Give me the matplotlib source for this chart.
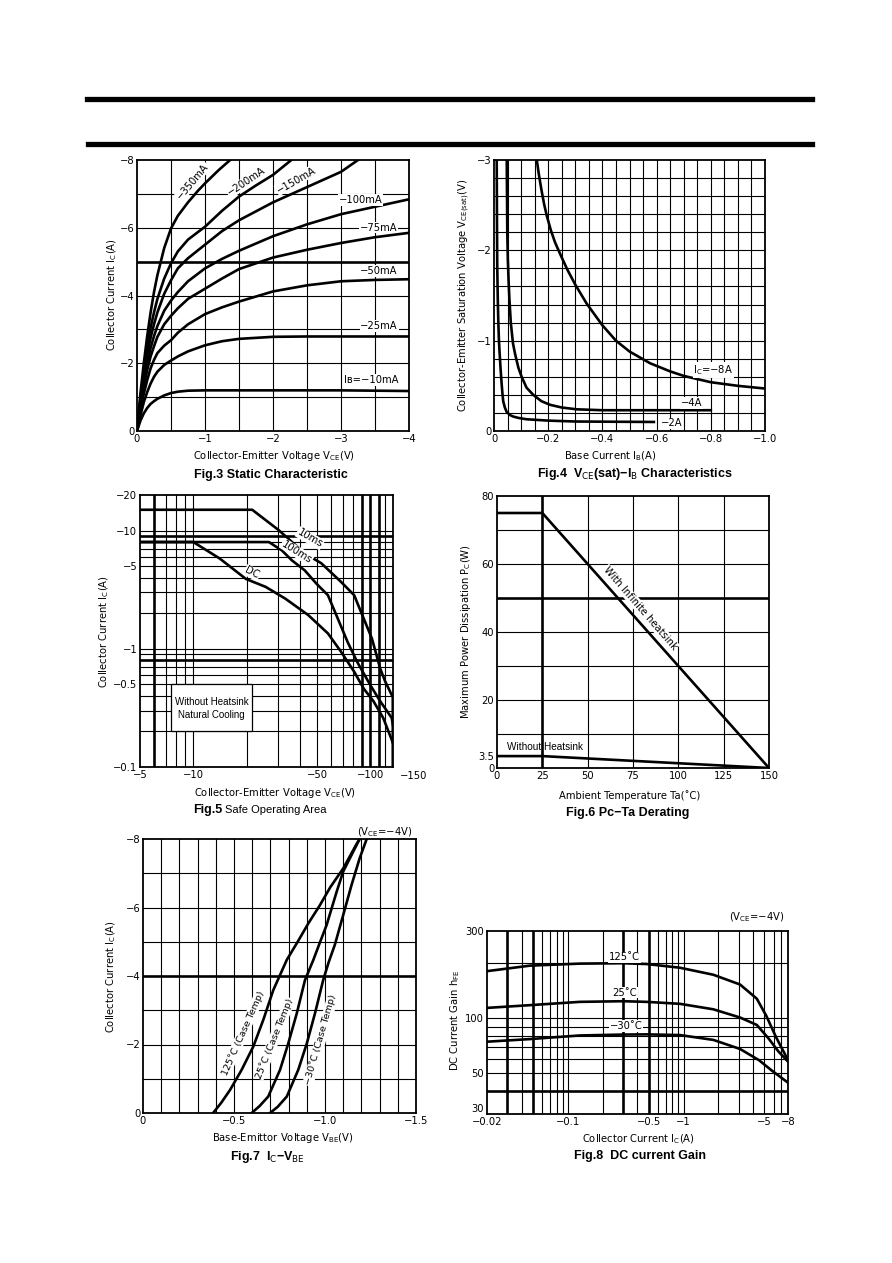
import numpy as np
import matplotlib
matplotlib.use('Agg')
import matplotlib.pyplot as plt
from matplotlib.lines import Line2D
from matplotlib.patches import Rectangle
from matplotlib.ticker import NullLocator

plt.rcParams['font.family'] = ['DejaVu Sans']
plt.rcParams['mathtext.fontset'] = 'dejavusans'
plt.rcParams['axes.unicode_minus'] = True

# ---------------- Fig.3 Static characteristic (VCE [V], IC [A]) ----------------
f3_vce = [0, -0.05, -0.1, -0.15, -0.2, -0.25, -0.3, -0.4, -0.5, -0.6, -0.75, -1, -1.25, -1.5, -2, -2.5, -3, -3.5, -4]
f3_ic_10mA = [0, -0.3, -0.52, -0.68, -0.8, -0.88, -0.95, -1.05, -1.12, -1.16, -1.19, -1.2, -1.2, -1.2, -1.2, -1.2, -1.2, -1.19, -1.18]
f3_ic_25mA = [0, -0.45, -0.85, -1.15, -1.4, -1.6, -1.75, -1.95, -2.08, -2.2, -2.35, -2.53, -2.65, -2.72, -2.78, -2.79, -2.79, -2.79, -2.79]
f3_ic_50mA = [0, -0.6, -1.1, -1.5, -1.85, -2.1, -2.3, -2.52, -2.68, -2.9, -3.15, -3.45, -3.65, -3.82, -4.12, -4.3, -4.42, -4.46, -4.48]
f3_ic_75mA = [0, -0.7, -1.3, -1.8, -2.2, -2.5, -2.78, -3.15, -3.4, -3.62, -3.9, -4.2, -4.5, -4.78, -5.12, -5.35, -5.55, -5.72, -5.85]
f3_ic_100mA = [0, -0.8, -1.45, -2.0, -2.45, -2.8, -3.1, -3.55, -3.85, -4.1, -4.42, -4.8, -5.08, -5.32, -5.75, -6.1, -6.4, -6.62, -6.84]
f3_vce_150 = [0, -0.05, -0.1, -0.15, -0.2, -0.25, -0.3, -0.4, -0.5, -0.6, -0.75, -1, -1.25, -1.5, -2, -2.5, -3, -3.25]
f3_ic_150mA = [0, -0.85, -1.6, -2.25, -2.75, -3.15, -3.5, -4.05, -4.45, -4.8, -5.1, -5.5, -5.9, -6.22, -6.75, -7.2, -7.65, -8.0]
f3_vce_200 = [0, -0.05, -0.1, -0.15, -0.2, -0.25, -0.3, -0.4, -0.5, -0.6, -0.75, -1, -1.25, -1.5, -1.75, -2, -2.27]
f3_ic_200mA = [0, -0.95, -1.8, -2.5, -3.05, -3.5, -3.9, -4.5, -4.95, -5.3, -5.65, -6.03, -6.5, -6.92, -7.25, -7.56, -8.0]
f3_vce_350 = [0, -0.05, -0.1, -0.15, -0.2, -0.25, -0.3, -0.4, -0.5, -0.6, -0.75, -0.9, -1, -1.2, -1.37]
f3_ic_350mA = [0, -1.1, -2.0, -2.8, -3.5, -4.1, -4.6, -5.4, -5.98, -6.35, -6.75, -7.1, -7.31, -7.7, -8.0]
f3_labels = ['Iʙ=−10mA', '−25mA', '−50mA', '−75mA', '−100mA', '−150mA', '−200mA', '−350mA']

# ---------------- Fig.4 VCE(sat) - IB ----------------
f4_ib_8A = [-0.158, -0.165, -0.175, -0.185, -0.195, -0.21, -0.225, -0.244, -0.27, -0.3, -0.342, -0.4, -0.45, -0.5, -0.576, -0.65, -0.7, -0.8, -0.9, -1.0]
f4_v_8A = [-3.0, -2.85, -2.67, -2.51, -2.38, -2.22, -2.09, -1.96, -1.79, -1.62, -1.41, -1.17, -1.0, -0.88, -0.75, -0.66, -0.61, -0.54, -0.5, -0.47]
f4_ib_4A = [-0.047, -0.048, -0.049, -0.051, -0.054, -0.057, -0.062, -0.07, -0.078, -0.09, -0.102, -0.12, -0.145, -0.175, -0.207, -0.25, -0.305, -0.4, -0.8]
f4_v_4A = [-3.0, -2.6, -2.2, -1.9, -1.65, -1.45, -1.2, -0.97, -0.85, -0.7, -0.6, -0.48, -0.4, -0.33, -0.29, -0.26, -0.24, -0.23, -0.23]
f4_ib_2A = [-0.01, -0.011, -0.012, -0.014, -0.016, -0.018, -0.02, -0.024, -0.028, -0.031, -0.034, -0.04, -0.047, -0.06, -0.071, -0.09, -0.12, -0.2, -0.3, -0.59]
f4_v_2A = [-3.0, -2.3, -1.82, -1.45, -1.2, -1.02, -0.9, -0.7, -0.53, -0.42, -0.33, -0.26, -0.21, -0.175, -0.16, -0.145, -0.13, -0.115, -0.105, -0.1]

# ---------------- Fig.5 Safe operating area (magnitudes of -VCE [V], -IC [A]) ----------------
f5_v_10ms = [5, 21.5, 30.3, 42.6, 52.7, 68.1, 80.9, 91.6, 101.9, 113.5, 121, 133.6, 133.6]
f5_i_10ms = [15, 15, 10.1, 6.4, 5.3, 3.69, 2.84, 1.80, 1.22, 0.68, 0.53, 0.39, 0.1]
f5_v_100ms = [5, 26.7, 31.6, 36, 42.6, 49.5, 57.5, 65.4, 74.3, 84.3, 100, 113.5, 131.8, 133.6]
f5_i_100ms = [8, 8, 6.8, 5.6, 4.6, 3.56, 2.84, 1.8, 1.14, 0.77, 0.49, 0.36, 0.26, 0.23]
f5_v_dc = [5, 10, 14.1, 19.8, 25.6, 33, 44.5, 57.5, 68, 80.9, 91.6, 104, 118, 131.8, 133.6]
f5_i_dc = [8, 8, 5.8, 3.9, 3.34, 2.66, 1.93, 1.35, 0.95, 0.64, 0.46, 0.36, 0.26, 0.17, 0.16]

# ---------------- Fig.6 Pc - Ta derating ----------------
f6_ta_inf = [0, 25, 150]
f6_pc_inf = [75, 75, 0]
f6_ta_no = [0, 25, 50, 75, 100, 125, 150]
f6_pc_no = [3.5, 3.5, 2.8, 2.1, 1.4, 0.7, 0]

# ---------------- Fig.7 IC - VBE ----------------
f7_vbe_125 = [-0.385, -0.43, -0.478, -0.542, -0.606, -0.661, -0.716, -0.753, -0.79, -0.85, -0.91, -0.97, -1.03, -1.10, -1.17, -1.19]
f7_ic_125 = [0, -0.3, -0.67, -1.26, -1.94, -2.72, -3.59, -4.03, -4.47, -5.0, -5.55, -6.05, -6.6, -7.14, -7.82, -8.0]
f7_vbe_25 = [-0.597, -0.64, -0.688, -0.753, -0.798, -0.845, -0.89, -0.936, -0.97, -1.009, -1.064, -1.10, -1.155, -1.19]
f7_ic_25 = [0, -0.2, -0.48, -1.26, -2.03, -2.91, -3.88, -4.47, -4.95, -5.49, -6.46, -7.05, -7.63, -8.0]
f7_vbe_m30 = [-0.698, -0.74, -0.79, -0.853, -0.9, -0.945, -0.99, -1.02, -1.054, -1.10, -1.146, -1.19, -1.229]
f7_ic_m30 = [0, -0.18, -0.48, -1.26, -2.03, -2.91, -3.88, -4.4, -4.91, -5.78, -6.66, -7.43, -8.0]

# ---------------- Fig.8 DC current gain (magnitude of -IC [A], hFE) ----------------
f8_ic_125 = [0.02, 0.047, 0.127, 0.3, 0.48, 0.93, 1.81, 3.08, 4.3, 5.2, 6.3, 7.8, 8.0]
f8_h_125 = [181, 194, 199, 200, 198, 189, 173, 153, 128, 103, 79, 61, 59]
f8_ic_25 = [0.02, 0.047, 0.127, 0.3, 0.48, 0.93, 1.81, 3.08, 4.3, 5.4, 6.6, 8.0]
f8_h_25 = [114, 118, 123, 124, 123, 120, 112, 101, 92, 78, 66, 58]
f8_ic_m30 = [0.02, 0.047, 0.127, 0.3, 0.48, 0.93, 1.81, 3.08, 4.5, 5.8, 8.0]
f8_h_m30 = [74.5, 77, 80.6, 81.5, 81.7, 81, 76.2, 68, 59, 51.8, 44.5]

# =====================================================================
W, H = 892, 1263
fig = plt.figure(figsize=(W / 100, H / 100), dpi=100)
fig.patch.set_facecolor('white')

TFS = 7.2
CAP = dict(family='Liberation Sans', fontweight='bold', fontsize=9, ha='center', va='center')
NARROW = 'Liberation Sans'
GRID = dict(color='black', lw=0.8, zorder=1)
THICK = dict(color='black', lw=1.9, zorder=1)
CURVE = dict(color='black', lw=1.9, zorder=2, solid_joinstyle='round')
BOX = dict(facecolor='white', edgecolor='none', pad=0.5)


def add_ax(l, r, t, b):
    ax = fig.add_axes([l / W, 1 - b / H, (r - l) / W, (b - t) / H])
    for s in ax.spines.values():
        s.set_linewidth(1.3)
        s.set_color('black')
        s.set_zorder(4)
    ax.tick_params(which='both', length=0, labelsize=TFS, pad=2)
    return ax


def ftext(x, y, s, **kw):
    return fig.text(x / W, 1 - y / H, s, **kw)


def vgrid(ax, xs, **kw):
    for x in xs:
        ax.axvline(x, **kw)


def hgrid(ax, ys, **kw):
    for y in ys:
        ax.axhline(y, **kw)


def lbl(ax, x, y, s, rot=0, fs=TFS, **kw):
    ax.text(x, y, s, rotation=rot, ha='center', va='center', fontsize=fs,
            bbox=BOX, zorder=3, rotation_mode='anchor', **kw)


# header rules
fig.add_artist(Line2D([87 / W, 812 / W], [1 - 98.5 / H] * 2, lw=3.8, color='black'))
fig.add_artist(Line2D([88 / W, 812 / W], [1 - 143.5 / H] * 2, lw=3.8, color='black'))

# ---------------- Fig.3 ----------------
ax3 = add_ax(137, 409, 160, 431)
ax3.set_xlim(0, -4)
ax3.set_ylim(0, -8)
vgrid(ax3, np.arange(-0.5, -3.9, -0.5), **GRID)
hgrid(ax3, [-1, -2, -3, -4, -6, -7], **GRID)
hgrid(ax3, [-5], **THICK)
ax3.plot(f3_vce, f3_ic_10mA, **CURVE)
ax3.plot(f3_vce, f3_ic_25mA, **CURVE)
ax3.plot(f3_vce, f3_ic_50mA, **CURVE)
ax3.plot(f3_vce, f3_ic_75mA, **CURVE)
ax3.plot(f3_vce, f3_ic_100mA, **CURVE)
ax3.plot(f3_vce_150, f3_ic_150mA, **CURVE)
ax3.plot(f3_vce_200, f3_ic_200mA, **CURVE)
ax3.plot(f3_vce_350, f3_ic_350mA, **CURVE)
ax3.set_xticks([0, -1, -2, -3, -4], ['0', '−1', '−2', '−3', '−4'])
ax3.set_yticks([0, -2, -4, -6, -8], ['0', '−2', '−4', '−6', '−8'])
lbl(ax3, -3.44, -1.5, f3_labels[0])
lbl(ax3, -3.56, -3.1, f3_labels[1])
lbl(ax3, -3.55, -4.72, f3_labels[2])
lbl(ax3, -3.55, -6.0, f3_labels[3])
lbl(ax3, -3.29, -6.82, f3_labels[4])
lbl(ax3, -2.34, -7.41, f3_labels[5], rot=30)
lbl(ax3, -1.61, -7.36, f3_labels[6], rot=34)
lbl(ax3, -0.82, -7.37, f3_labels[7], rot=50)
ftext(274, 456, r'Collector-Emitter Voltage V$_{\rm CE}$(V)', ha='center', va='center', fontsize=TFS)
ftext(112, 295, r'Collector Current I$_{\rm C}$(A)', ha='center', va='center', fontsize=TFS, rotation=90)
ftext(271, 475, 'Fig.3 Static Characteristic', **CAP)

# ---------------- Fig.4 ----------------
ax4 = add_ax(494, 765, 160, 431)
ax4.set_xlim(0, -1.0)
ax4.set_ylim(0, -3)
vgrid(ax4, np.arange(-0.05, -0.99, -0.05), **GRID)
hgrid(ax4, np.arange(-0.2, -2.99, -0.2), **GRID)
ax4.plot(f4_ib_8A, f4_v_8A, **CURVE)
ax4.plot(f4_ib_4A, f4_v_4A, **CURVE)
ax4.plot(f4_ib_2A, f4_v_2A, **CURVE)
ax4.set_xticks([0, -0.2, -0.4, -0.6, -0.8, -1.0], ['0', '−0.2', '−0.4', '−0.6', '−0.8', '−1.0'])
ax4.set_yticks([0, -1, -2, -3], ['0', '−1', '−2', '−3'])
lbl(ax4, -0.81, -0.675, r'I$_{\rm C}$=−8A')
lbl(ax4, -0.73, -0.31, '−4A')
lbl(ax4, -0.655, -0.085, '−2A')
ftext(610, 456, r'Base Current I$_{\rm B}$(A)', ha='center', va='center', fontsize=TFS)
ftext(464, 295, r'Collector-Emitter Saturation Voltage V$_{\rm CE(sat)}$(V)', ha='center', va='center',
      fontsize=TFS, rotation=90)
ftext(635, 474, r'Fig.4  V$_{\rm CE}$(sat)−I$_{\rm B}$ Characteristics', **CAP)

# ---------------- Fig.5 ----------------
ax5 = add_ax(140, 393, 495, 767)
ax5.set_xscale('log')
ax5.set_yscale('log')
ax5.set_xlim(5, 134)
ax5.set_ylim(0.1, 20)
vgrid(ax5, [7, 8, 9, 10, 20, 30, 40, 50, 60, 70, 80, 120], **GRID)
vgrid(ax5, [6, 90, 100, 112], **THICK)
hgrid(ax5, [0.2, 0.3, 0.4, 0.5, 0.6, 0.7, 0.9, 1, 2, 3, 4, 5, 6, 7, 8, 10], **GRID)
hgrid(ax5, [0.8, 9], **THICK)
ax5.plot(f5_v_10ms, f5_i_10ms, **CURVE)
ax5.plot(f5_v_100ms, f5_i_100ms, **CURVE)
ax5.plot(f5_v_dc, f5_i_dc, **CURVE)
ax5.xaxis.set_minor_locator(NullLocator())
ax5.yaxis.set_minor_locator(NullLocator())
ax5.set_xticks([5, 10, 50, 100], ['−5', '−10', '−50', '−100'])
ax5.set_yticks([0.1, 0.5, 1, 5, 10, 20], ['−0.1', '−0.5', '−1', '−5', '−10', '−20'])
ax5.text(1.08, -0.013, '−150', transform=ax5.transAxes, ha='center', va='top', fontsize=TFS)
lbl(ax5, 45.5, 8.6, '10ms', rot=-30)
lbl(ax5, 38.4, 6.6, '100ms', rot=-32)
lbl(ax5, 21.5, 4.4, 'DC', rot=-27)
ax5.add_patch(Rectangle((7.5, 0.2), 14.0, 0.3, facecolor='white', edgecolor='black', lw=0.9, zorder=3))
ax5.text(12.7, 0.356, 'Without Heatsink', ha='center', va='center', fontsize=7, family=NARROW, zorder=4)
ax5.text(12.7, 0.276, 'Natural Cooling', ha='center', va='center', fontsize=7, family=NARROW, zorder=4)
ftext(275, 793, r'Collector-Emitter Voltage V$_{\rm CE}$(V)', ha='center', va='center', fontsize=TFS)
ftext(104, 632, r'Collector Current I$_{\rm C}$(A)', ha='center', va='center', fontsize=TFS, rotation=90)
ftext(222, 810, 'Fig.5', ha='right', va='center', fontsize=9, fontweight='bold', family=NARROW)
ftext(225, 810, 'Safe Operating Area', ha='left', va='center', fontsize=8, family=NARROW)

# ---------------- Fig.6 ----------------
ax6 = add_ax(497, 769, 496, 768)
ax6.set_xlim(0, 150)
ax6.set_ylim(0, 80)
vgrid(ax6, [50, 75, 100, 125], **GRID)
vgrid(ax6, [25], **THICK)
hgrid(ax6, [10, 20, 30, 40, 60, 70], **GRID)
hgrid(ax6, [50], **THICK)
ax6.plot(f6_ta_inf, f6_pc_inf, **CURVE)
ax6.plot(f6_ta_no, f6_pc_no, **CURVE)
ax6.set_xticks([0, 25, 50, 75, 100, 125, 150], ['0', '25', '50', '75', '100', '125', '150'])
ax6.set_yticks([0, 3.5, 20, 40, 60, 80], ['0', '3.5', '20', '40', '60', '80'])
lbl(ax6, 79, 47, 'With Infinite heatsink', rot=-49)
ax6.text(5.5, 6.2, 'Without Heatsink', ha='left', va='center', fontsize=7.2, family=NARROW, zorder=3)
ftext(630, 796, 'Ambient Temperature Ta(˚C)', ha='center', va='center', fontsize=TFS)
ftext(466, 632, r'Maximum Power Dissipation P$_{\rm C}$(W)', ha='center', va='center', fontsize=TFS, rotation=90)
ftext(628, 813, 'Fig.6 Pc−Ta Derating', **CAP)

# ---------------- Fig.7 ----------------
ax7 = add_ax(143, 416, 839, 1113)
ax7.set_xlim(0, -1.5)
ax7.set_ylim(0, -8)
vgrid(ax7, np.arange(-0.1, -1.49, -0.1), **GRID)
hgrid(ax7, [-1, -2, -3, -5, -6, -7], **GRID)
hgrid(ax7, [-4], **THICK)
ax7.plot(f7_vbe_125, f7_ic_125, **CURVE)
ax7.plot(f7_vbe_25, f7_ic_25, **CURVE)
ax7.plot(f7_vbe_m30, f7_ic_m30, **CURVE)
ax7.set_xticks([0, -0.5, -1.0, -1.5], ['0', '−0.5', '−1.0', '−1.5'])
ax7.set_yticks([0, -2, -4, -6, -8], ['0', '−2', '−4', '−6', '−8'])
lbl(ax7, -0.548, -2.33, '125˚C (Case Temp)', rot=66, fs=6.8)
lbl(ax7, -0.722, -2.18, '25˚C (Case Temp)', rot=68, fs=6.8)
lbl(ax7, -0.975, -2.13, '−30˚C (Case Temp)', rot=74, fs=6.8)
ftext(385, 832, r'(V$_{\rm CE}$=−4V)', ha='center', va='center', fontsize=TFS)
ftext(283, 1138, r'Base-Emittor Voltage V$_{\rm BE}$(V)', ha='center', va='center', fontsize=TFS)
ftext(111, 977, r'Collector Current I$_{\rm C}$(A)', ha='center', va='center', fontsize=TFS, rotation=90)
ftext(267, 1157, r'Fig.7  I$_{\rm C}$−V$_{\rm BE}$', **CAP)

# ---------------- Fig.8 ----------------
ax8 = add_ax(487, 788, 931, 1114)
ax8.set_xscale('log')
ax8.set_yscale('log')
ax8.set_xlim(0.02, 8)
ax8.set_ylim(30, 300)
vgrid(ax8, [0.04, 0.06, 0.07, 0.08, 0.09, 0.1, 0.2, 0.4, 0.6, 0.7, 0.8, 0.9, 1, 2, 3, 4, 5, 6, 7], **GRID)
vgrid(ax8, [0.03, 0.05, 0.3, 0.5], **THICK)
hgrid(ax8, [50, 60, 70, 80, 90, 100, 200], **GRID)
hgrid(ax8, [40], **THICK)
ax8.plot(f8_ic_125, f8_h_125, **CURVE)
ax8.plot(f8_ic_25, f8_h_25, **CURVE)
ax8.plot(f8_ic_m30, f8_h_m30, **CURVE)
ax8.xaxis.set_minor_locator(NullLocator())
ax8.yaxis.set_minor_locator(NullLocator())
ax8.set_xticks([0.02, 0.1, 0.5, 1, 5, 8], ['−0.02', '−0.1', '−0.5', '−1', '−5', '−8'])
ax8.set_yticks([30, 50, 100, 300], ['30', '50', '100', '300'])
ax8.get_yticklabels()[0].set_va('bottom')
lbl(ax8, 0.31, 215, '125˚C')
lbl(ax8, 0.31, 138, '25˚C')
lbl(ax8, 0.32, 91, '−30˚C')
ftext(757, 917, r'(V$_{\rm CE}$=−4V)', ha='center', va='center', fontsize=TFS)
ftext(638, 1139, r'Collector Current I$_{\rm C}$(A)', ha='center', va='center', fontsize=TFS)
ftext(455, 1020, r'DC Current Gain h$_{\rm FE}$', ha='center', va='center', fontsize=TFS, rotation=90)
ftext(640, 1156, 'Fig.8  DC current Gain', **CAP)

fig.savefig('out.png', dpi=100, facecolor='white')
